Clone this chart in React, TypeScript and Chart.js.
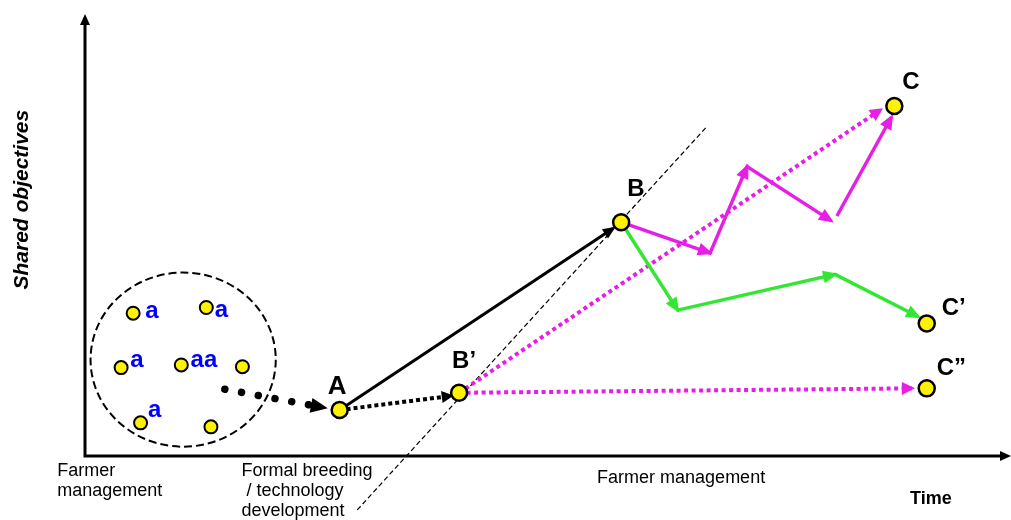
import React, { useEffect, useRef } from 'react';
import { Chart, registerables } from 'chart.js';

Chart.register(...registerables);

// ---- Data (x = time, y = shared objectives; both on a 0–100 scale) ----
const clusterX = [5.2, 13.1, 3.9, 10.4, 17.0, 6.0, 13.6];
const clusterY = [32.3, 33.6, 20.0, 20.6, 20.2, 7.5, 6.6];

const clusterTagText = ['a', 'a', 'a', 'aa', 'a'];
const clusterTagX = [6.5, 14.0, 4.9, 11.4, 6.8];
const clusterTagY = [31.2, 31.4, 20.1, 20.1, 8.8];

const clusterCentre = [10.6, 21.8];
const clusterRadius = [10.0, 19.7];

const stageNames = ['A', 'B’', 'B', 'C', 'C’', 'C”'];
const stageX = [27.5, 40.4, 57.9, 87.4, 90.9, 90.9];
const stageY = [10.4, 14.3, 52.9, 79.2, 30.0, 15.3];

const toAX = [15.1, 25.9];
const toAY = [15.1, 10.9];
const aToBX = [27.5, 57.05];
const aToBY = [10.4, 51.5];
const aToB1X = [27.5, 39.5];
const aToB1Y = [10.4, 13.6];
const b1ToCX = [40.4, 85.9];
const b1ToCY = [14.3, 78.3];
const b1ToC2X = [40.4, 89.3];
const b1ToC2Y = [14.3, 15.3];
const zigX = [57.9, 67.5, 71.5, 80.6];
const zigY = [52.9, 45.9, 65.5, 53.2];
const toCX = [81.2, 87.1];
const toCY = [54.3, 76.7];
const toC1X = [57.9, 64.0, 81.0, 90.0];
const toC1Y = [52.9, 33.0, 41.1, 31.5];
const dividerX = [29.4, 67.1];
const dividerY = [-12.2, 74.4];

const phaseLabels = [['Farmer', 'management'], ['Formal breeding', ' / technology', 'development'], ['Farmer management']];
const phaseX = [-3.0, 16.9, 55.3];
const xTitle = 'Time';
const xTitleAt = 89.1;
const yTitle = 'Shared objectives';
const yTitleAt = 58;

// ---- Styles ----
const FONT = '"Liberation Sans", Arial, sans-serif';
const YELLOW = '#fff200';
const MAGENTA = '#e61ee6';
const GREEN = '#33e633';
const stageLabelOffsets = [[-12, -16], [-7, -25], [6, -26], [8, -17], [15, -8], [10, -13]];
const phaseBaselineGap = [20, 20, 27];

const pts = (xs: number[], ys: number[]) => xs.map((x, i) => ({ x, y: ys[i] }));

function arrowHead(ctx: CanvasRenderingContext2D, x0: number, y0: number, x1: number, y1: number, len: number, half: number, color: string, extend = 3) {
  const a = Math.atan2(y1 - y0, x1 - x0);
  const c = Math.cos(a), s = Math.sin(a);
  const tx = x1 + c * extend, ty = y1 + s * extend;
  ctx.save();
  ctx.fillStyle = color;
  ctx.beginPath();
  ctx.moveTo(tx, ty);
  ctx.lineTo(tx - len * c + half * s, ty - len * s - half * c);
  ctx.lineTo(tx - len * c - half * s, ty - len * s + half * c);
  ctx.closePath();
  ctx.fill();
  ctx.restore();
}

const diagramPlugin = {
  id: 'diagram',
  beforeDatasetsDraw(chart: any) {
    const { ctx, chartArea: ca, scales } = chart;
    const xs = scales.x, ys = scales.y;
    ctx.save();
    // axes
    ctx.strokeStyle = '#000';
    ctx.lineWidth = 3;
    ctx.beginPath();
    ctx.moveTo(ca.left, ca.bottom + 1.5);
    ctx.lineTo(ca.left, ca.top + 8);
    ctx.moveTo(ca.left - 1.5, ca.bottom);
    ctx.lineTo(ca.right - 8, ca.bottom);
    ctx.stroke();
    arrowHead(ctx, ca.left, ca.bottom, ca.left, ca.top, 11, 5, '#000', 0);
    arrowHead(ctx, ca.left, ca.bottom, ca.right, ca.bottom, 11, 5, '#000', 0);
    // cluster boundary
    const cx = xs.getPixelForValue(clusterCentre[0]);
    const cy = ys.getPixelForValue(clusterCentre[1]);
    const rx = Math.abs(xs.getPixelForValue(clusterCentre[0] + clusterRadius[0]) - cx);
    const ry = Math.abs(ys.getPixelForValue(clusterCentre[1] + clusterRadius[1]) - cy);
    ctx.setLineDash([8, 4]);
    ctx.lineWidth = 2;
    ctx.beginPath();
    ctx.ellipse(cx, cy, rx, ry, 0, 0, Math.PI * 2);
    ctx.stroke();
    ctx.restore();
  },
  afterDatasetDraw(chart: any, args: any) {
    const ds: any = chart.data.datasets[args.index];
    if (!ds.arrow) return;
    const els = args.meta.data;
    const ctx = chart.ctx;
    const color = ds.arrowColor || ds.borderColor;
    if (ds.arrow === 'end') {
      const n = els.length;
      arrowHead(ctx, els[n - 2].x, els[n - 2].y, els[n - 1].x, els[n - 1].y, ds.arrowLen, ds.arrowHalf, color);
    } else {
      for (let i = 1; i < els.length; i++) {
        arrowHead(ctx, els[i - 1].x, els[i - 1].y, els[i].x, els[i].y, ds.arrowLen, ds.arrowHalf, color);
      }
    }
  },
  afterDatasetsDraw(chart: any) {
    const { ctx, chartArea: ca, scales } = chart;
    const xs = scales.x, ys = scales.y;
    ctx.save();
    ctx.textAlign = 'left';
    ctx.textBaseline = 'alphabetic';
    // stage labels
    ctx.fillStyle = '#000';
    stageNames.forEach((name, i) => {
      ctx.font = `bold ${i === 0 ? 26 : 24}px ${FONT}`;
      const px = xs.getPixelForValue(stageX[i]) + stageLabelOffsets[i][0];
      const py = ys.getPixelForValue(stageY[i]) + stageLabelOffsets[i][1];
      ctx.fillText(name, px, py);
    });
    // cluster tags
    ctx.fillStyle = '#0000ff';
    ctx.font = `bold 24px ${FONT}`;
    clusterTagText.forEach((t, i) => {
      ctx.fillText(t, xs.getPixelForValue(clusterTagX[i]), ys.getPixelForValue(clusterTagY[i]));
    });
    // phase labels under the time axis
    ctx.fillStyle = '#000';
    ctx.font = `18px ${FONT}`;
    phaseLabels.forEach((lines, i) => {
      lines.forEach((line, j) => {
        ctx.fillText(line, xs.getPixelForValue(phaseX[i]), ca.bottom + phaseBaselineGap[i] + j * 20);
      });
    });
    ctx.font = `bold 18px ${FONT}`;
    ctx.fillText(xTitle, xs.getPixelForValue(xTitleAt), ca.bottom + 48);
    // y axis title
    ctx.translate(22, ys.getPixelForValue(yTitleAt));
    ctx.rotate(-Math.PI / 2);
    ctx.textAlign = 'center';
    ctx.textBaseline = 'middle';
    ctx.font = `italic bold 21px ${FONT}`;
    ctx.fillText(yTitle, 0, 0);
    ctx.restore();
  },
};

export default function App() {
  const ref = useRef<HTMLCanvasElement>(null);
  useEffect(() => {
    document.body.style.margin = '0';
    const line = (data: any, extra: any) => ({
      data,
      showLine: true,
      pointRadius: 0,
      pointHoverRadius: 0,
      fill: false,
      tension: 0,
      ...extra,
    });
    const chart = new Chart(ref.current as HTMLCanvasElement, {
      type: 'scatter',
      data: {
        datasets: [
          {
            data: pts(stageX, stageY),
            pointRadius: 8,
            pointBackgroundColor: YELLOW,
            pointBorderColor: '#000',
            pointBorderWidth: 2.5,
            order: 0,
          } as any,
          {
            data: pts(clusterX, clusterY),
            pointRadius: 6.5,
            pointBackgroundColor: YELLOW,
            pointBorderColor: '#000',
            pointBorderWidth: 2,
            order: 1,
          } as any,
          line(pts(aToBX, aToBY), { borderColor: '#000', borderWidth: 3, order: 3, arrow: 'end', arrowLen: 13, arrowHalf: 5.5 }),
          line(pts(aToB1X, aToB1Y), { borderColor: '#000', borderWidth: 4, borderDash: [4, 3], order: 3, arrow: 'end', arrowLen: 12, arrowHalf: 6 }),
          line(pts(toAX, toAY), { borderColor: '#000', borderWidth: 7.5, borderDash: [0.01, 17], borderCapStyle: 'round', order: 3, arrow: 'end', arrowLen: 17, arrowHalf: 7.5 }),
          line(pts(zigX, zigY), { borderColor: MAGENTA, borderWidth: 3.5, order: 4, arrow: 'vertices', arrowLen: 15, arrowHalf: 6.5 }),
          line(pts(toCX, toCY), { borderColor: MAGENTA, borderWidth: 3.5, order: 4, arrow: 'end', arrowLen: 15, arrowHalf: 6.5 }),
          line(pts(toC1X, toC1Y), { borderColor: GREEN, borderWidth: 3.5, order: 4, arrow: 'vertices', arrowLen: 15, arrowHalf: 6.5 }),
          line(pts(b1ToCX, b1ToCY), { borderColor: MAGENTA, borderWidth: 4, borderDash: [4, 3.5], order: 5, arrow: 'end', arrowLen: 13, arrowHalf: 6.5 }),
          line(pts(b1ToC2X, b1ToC2Y), { borderColor: MAGENTA, borderWidth: 4, borderDash: [4, 3.5], order: 5, arrow: 'end', arrowLen: 13, arrowHalf: 6.5 }),
          line(pts(dividerX, dividerY), { borderColor: '#000', borderWidth: 1.2, borderDash: [5, 3], order: 6, clip: false }),
        ],
      },
      options: {
        responsive: false,
        animation: false,
        events: [],
        layout: { autoPadding: false, padding: { left: 85, top: 14, right: 0, bottom: 64 } },
        plugins: { legend: { display: false }, tooltip: { enabled: false } },
        scales: {
          x: { type: 'linear', min: 0, max: 100, display: false },
          y: { type: 'linear', min: 0, max: 100, display: false },
        },
      },
      plugins: [diagramPlugin],
    } as any);
    return () => chart.destroy();
  }, []);
  return (
    <div style={{ width: 1011, height: 520, background: '#fff' }}>
      <canvas ref={ref} width={1011} height={520} style={{ display: 'block' }} />
    </div>
  );
}
